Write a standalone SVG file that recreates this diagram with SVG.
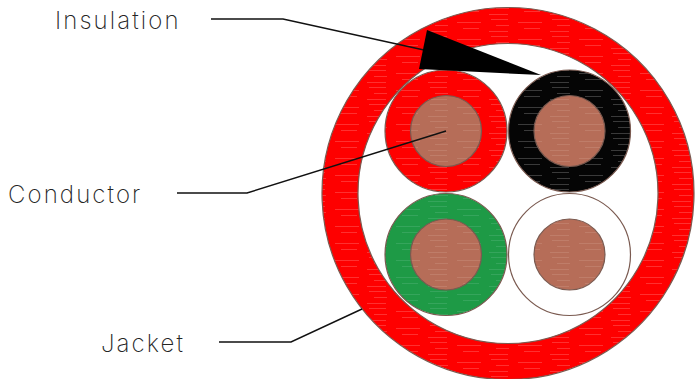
<svg xmlns="http://www.w3.org/2000/svg" width="700" height="379" viewBox="0 0 700 379">
<defs>
<pattern id="hr" width="61" height="17" patternUnits="userSpaceOnUse">
<rect width="61" height="17" fill="#fe0000"/>
<path d="M3 2.500h17M30 5.500h24M8 8.500h13M36 11.500h16M1 14.500h19" stroke="#ff3030" stroke-width="1" fill="none"/>
</pattern>
<pattern id="hb" width="61" height="17" patternUnits="userSpaceOnUse">
<rect width="61" height="17" fill="#050505"/>
<path d="M3 2.500h17M30 5.500h24M8 8.500h13M36 11.500h16M1 14.500h19" stroke="#3a3a3a" stroke-width="1" fill="none"/>
</pattern>
<pattern id="hg" width="61" height="17" patternUnits="userSpaceOnUse">
<rect width="61" height="17" fill="#1e9a46"/>
<path d="M3 2.500h17M30 5.500h24M8 8.500h13M36 11.500h16M1 14.500h19" stroke="#35a55c" stroke-width="1" fill="none"/>
</pattern>
<pattern id="hc" width="61" height="17" patternUnits="userSpaceOnUse">
<rect width="61" height="17" fill="#b66d58"/>
<path d="M3 2.500h17M30 5.500h24M8 8.500h13M36 11.500h16M1 14.500h19" stroke="#bf7d69" stroke-width="1" fill="none"/>
</pattern>
</defs>
<style>
.ln{stroke:#7a5a50;stroke-width:1.2}
.cond{fill:url(#hc);stroke:#7a5a50;stroke-width:1.2}
.lead{fill:none;stroke:#111;stroke-width:1.4}
text{font-family:"Inter","Liberation Sans",sans-serif;font-weight:200;font-size:24px;fill:#222;letter-spacing:2.1px;opacity:.99}
</style>
<g id="jacket">
<path d="M508 7.500a186 186 0 1 0 0.010 0zM508 43.500a150 150 0 1 1 -0.010 0z" fill="url(#hr)" fill-rule="evenodd" stroke="#7a5a50" stroke-width="1.2"/>
</g>
<g id="wire-red"><circle cx="446" cy="131" r="61" fill="url(#hr)" class="ln"/><circle cx="446" cy="131" r="35.500" class="cond"/></g>
<g id="wire-black"><circle cx="569.500" cy="131" r="61" fill="url(#hb)" class="ln"/><circle cx="569.500" cy="131" r="35.500" class="cond"/></g>
<g id="wire-green"><circle cx="446" cy="254.500" r="61" fill="url(#hg)" class="ln"/><circle cx="446" cy="254.500" r="35.500" class="cond"/></g>
<g id="wire-white"><circle cx="569.500" cy="254.500" r="61" fill="#fff" class="ln"/><circle cx="569.500" cy="254.500" r="35.500" class="cond"/></g>
<g id="connectors">
<path class="lead" d="M211 19H283L424 50"/>
<path d="M427 30L419 69L541 75Z" fill="#000"/>
<path class="lead" d="M177 193H247L446 131"/>
<path class="lead" d="M219 342H291L362 309"/>
</g>
<g id="label-insulation"><text x="55" y="29">Insulation</text></g>
<g id="label-conductor"><text x="8" y="203">Conductor</text></g>
<g id="label-jacket"><text x="101" y="352">Jacket</text></g>
</svg>
